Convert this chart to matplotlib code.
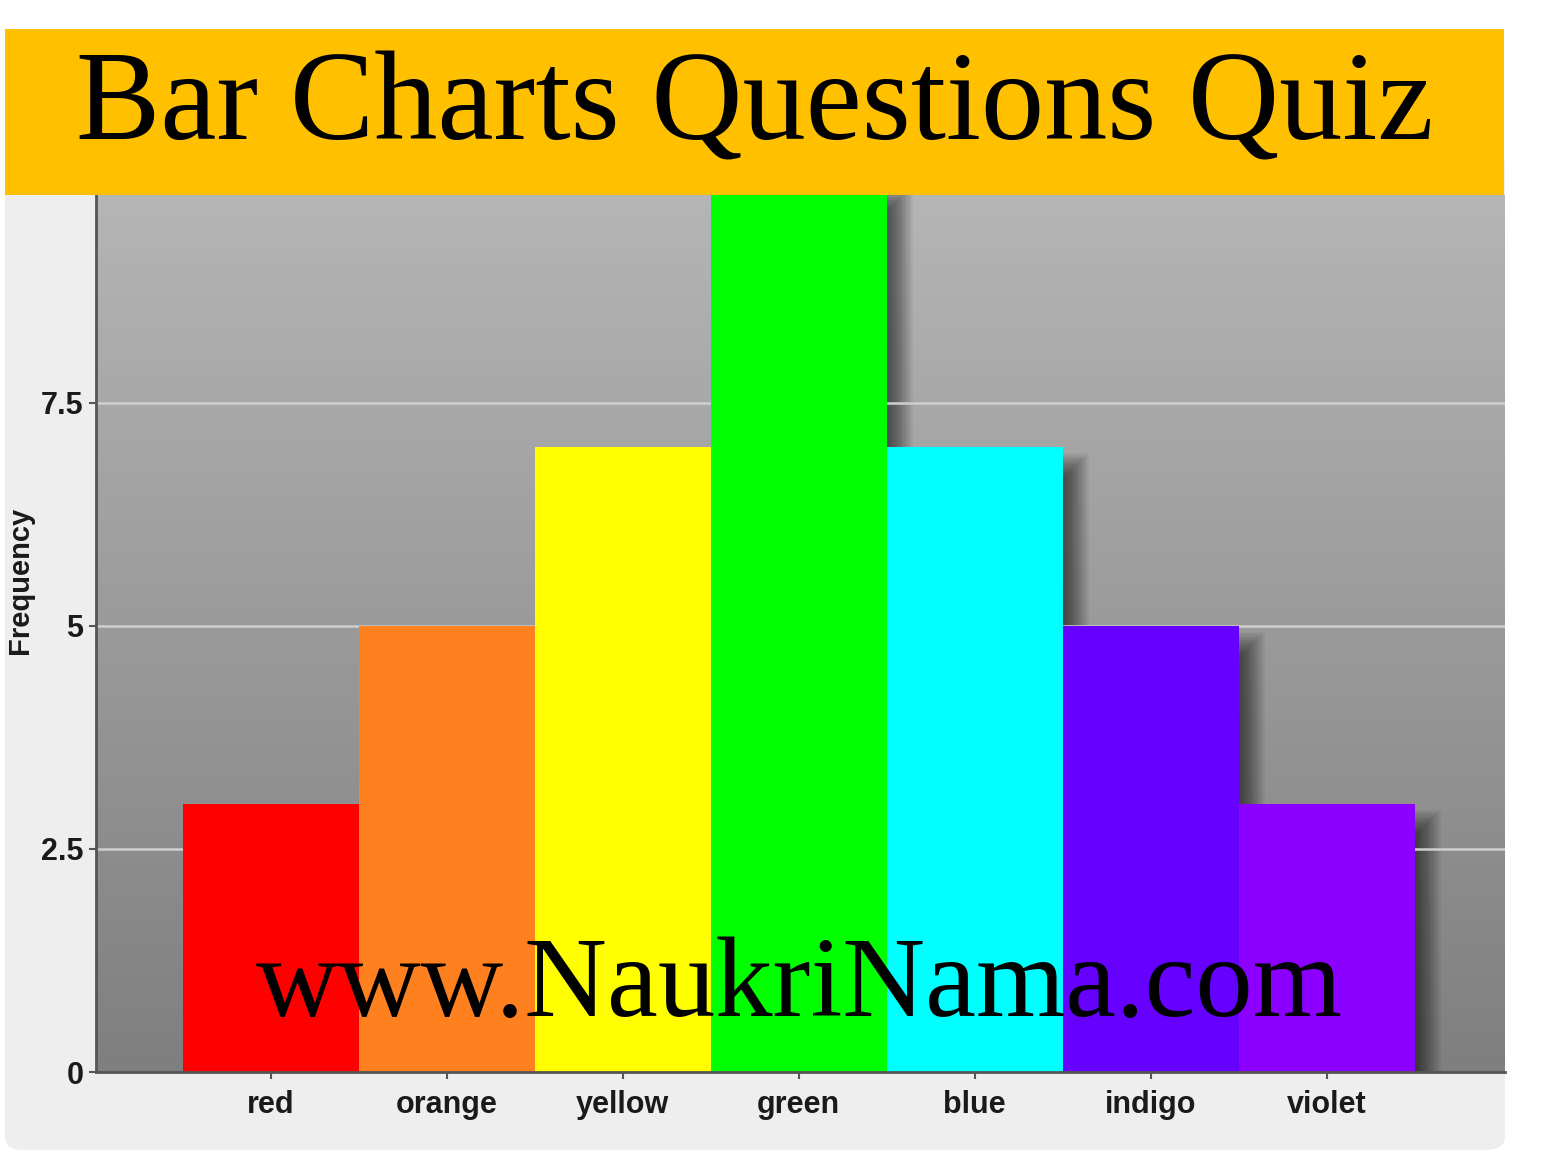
import numpy as np
import matplotlib
matplotlib.use("Agg")
import matplotlib.pyplot as plt
from matplotlib.patches import Rectangle, FancyBboxPatch
from matplotlib.colors import LinearSegmentedColormap

# ---- data ----
categories = ["red", "orange", "yellow", "green", "blue", "indigo", "violet"]
frequency = [3, 5, 7, 10, 7, 5, 3]
bar_colors = ["#FF0000", "#FF801F", "#FFFF00", "#00FF00", "#00FFFF", "#6600FF", "#8B00FF"]
y_ticks = [0, 2.5, 5, 7.5]
y_tick_labels = ["0", "2.5", "5", "7.5"]
title_text = "Bar Charts Questions Quiz"
watermark_text = "www.NaukriNama.com"
y_label = "Frequency"

W, H = 1542, 1154
DPI = 100
fig = plt.figure(figsize=(W / DPI, H / DPI), dpi=DPI)
fig.patch.set_facecolor("white")

def fx(px):
    return px / W

def fy(py):
    return 1 - py / H

# light panel with rounded bottom corners
panel = FancyBboxPatch((fx(5), fy(1150)), fx(1505) - fx(5), fy(150) - fy(1150),
                       boxstyle="round,pad=0,rounding_size=0.012",
                       transform=fig.transFigure, facecolor="#EEEEEE",
                       edgecolor="none", zorder=0)
fig.add_artist(panel)
# orange banner
banner = Rectangle((fx(5), fy(195)), fx(1504) - fx(5), fy(29) - fy(195),
                   transform=fig.transFigure, facecolor="#FFC000",
                   edgecolor="none", zorder=1)
fig.add_artist(banner)

# axes
ax_left, ax_right, ax_top, ax_bottom = 96, 1505, 195, 1072
ax = fig.add_axes([fx(ax_left), fy(ax_bottom), fx(ax_right) - fx(ax_left), fy(ax_top) - fy(ax_bottom)])
ax.set_facecolor("#999999")

x = np.arange(len(categories))
xlim = (-0.993, 7.013)
ylim = (0, 9.83)

# gradient background (light at top, darker at bottom)
grad = np.linspace(0, 1, 256).reshape(-1, 1)
cmap = LinearSegmentedColormap.from_list("bg", ["#B5B5B5", "#7F7F7F"])
ax.imshow(grad, extent=[xlim[0], xlim[1], ylim[0], ylim[1]], aspect="auto",
          cmap=cmap, zorder=0, interpolation="bilinear", origin="upper")

# shadows (blurred drop shadow to the right, approximated with layered rectangles)
px_x = (ax_right - ax_left) / (xlim[1] - xlim[0])
px_y = (ax_bottom - ax_top) / (ylim[1] - ylim[0])
dx, dy, r = 8, 24, 36
n_layers = 24
for xi, h in zip(x, frequency):
    left = xi - 0.5 + dx / px_x
    for k in range(n_layers):
        m = -r / 2 + r * k / (n_layers - 1)
        right = xi + 0.5 + (dx + m) / px_x
        top = h + (-dy + m) / px_y
        ax.add_patch(Rectangle((left, -1), right - left, top + 1,
                               facecolor="black", edgecolor="none",
                               alpha=0.042, zorder=1))

# gridlines
for yt in y_ticks[1:]:
    ax.axhline(yt, color="#CFCFCF", lw=1.8, zorder=1.5)

# bars
ax.bar(x, frequency, width=1.0, color=bar_colors, edgecolor="none", zorder=2)

ax.set_xlim(*xlim)
ax.set_ylim(*ylim)

ax.set_xticks(x)
ax.set_xticklabels(categories)
ax.set_yticks(y_ticks)
ax.set_yticklabels(y_tick_labels)
for lab in ax.get_xticklabels() + ax.get_yticklabels():
    lab.set_fontfamily("Liberation Sans")
    lab.set_fontweight("bold")
    lab.set_fontsize(22)
    lab.set_color("#1A1A1A")
ax.tick_params(axis="x", length=5, width=1.5, color="#555555", pad=8)
ax.tick_params(axis="y", length=5, width=1.5, color="#555555", pad=4)

for s in ["top", "right"]:
    ax.spines[s].set_visible(False)
for s in ["left", "bottom"]:
    ax.spines[s].set_color("#555555")
    ax.spines[s].set_linewidth(2)
    ax.spines[s].set_zorder(3)

ax.set_ylabel(y_label, fontfamily="Liberation Sans", fontweight="bold",
              fontsize=21, color="#1A1A1A")
ax.yaxis.set_label_coords((34 - ax_left) / (ax_right - ax_left),
                          (ax_bottom - 580) / (ax_bottom - ax_top))

# title and watermark
fig.text(fx(755), fy(139), title_text, family="Liberation Serif", fontsize=91,
         ha="center", va="baseline", color="black", zorder=5)
fig.text(fx(799), fy(1016), watermark_text, family="Liberation Serif", fontsize=82.5,
         ha="center", va="baseline", color="black", zorder=5)

fig.savefig("out.png", dpi=DPI)
